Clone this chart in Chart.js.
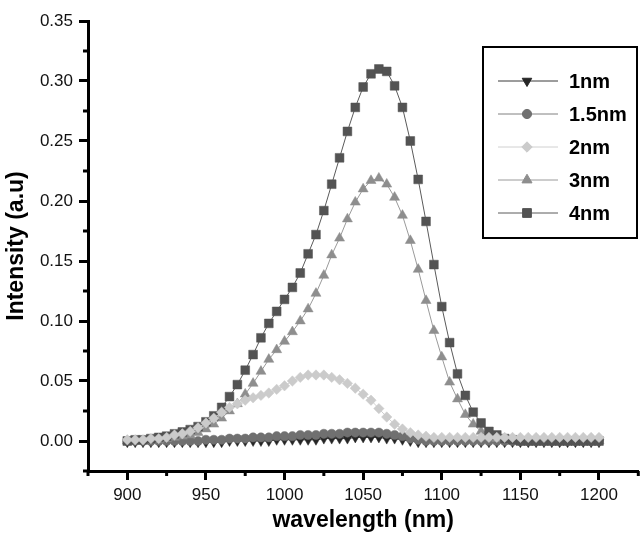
<!DOCTYPE html>
<html>
<head>
<meta charset="utf-8">
<script src="https://cdn.jsdelivr.net/npm/chart.js@4.4.1/dist/chart.umd.min.js"></script>
<style>
  html, body { margin: 0; padding: 0; background: #fff; overflow: hidden; }
  #wrap { position: relative; width: 645px; height: 535px; }
</style>
</head>
<body>
<div id="wrap"><canvas id="chart"></canvas></div>
<script>
// wavelength (nm)
const wavelength = [900, 905, 910, 915, 920, 925, 930, 935, 940, 945,
    950, 955, 960, 965, 970, 975, 980, 985, 990, 995,
    1000, 1005, 1010, 1015, 1020, 1025, 1030, 1035, 1040, 1045,
    1050, 1055, 1060, 1065, 1070, 1075, 1080, 1085, 1090, 1095,
    1100, 1105, 1110, 1115, 1120, 1125, 1130, 1135, 1140, 1145,
    1150, 1155, 1160, 1165, 1170, 1175, 1180, 1185, 1190, 1195, 1200];

const int1nm = [-0.001, -0.001, -0.001, -0.001, -0.001, -0.001, -0.001, -0.001, -0.001, -0.001,
    -0.001, -0.001, -0.001, 0.000, 0.000, 0.000, 0.000, 0.000, 0.000, 0.001,
    0.001, 0.001, 0.001, 0.001, 0.001, 0.002, 0.002, 0.002, 0.002, 0.003,
    0.003, 0.003, 0.003, 0.002, 0.002, 0.001, 0.000, -0.001, -0.001, -0.001,
    -0.001, -0.001, -0.001, -0.001, -0.001, -0.001, -0.001, -0.001, -0.001, -0.001,
    -0.001, -0.001, -0.001, -0.001, -0.001, -0.001, -0.001, -0.001, -0.001, -0.001, -0.001];

const int15nm = [0.000, 0.000, 0.000, 0.000, 0.000, 0.000, 0.000, 0.000, 0.000, 0.000,
    0.001, 0.001, 0.001, 0.002, 0.002, 0.002, 0.003, 0.003, 0.003, 0.004,
    0.004, 0.004, 0.005, 0.005, 0.005, 0.006, 0.006, 0.006, 0.007, 0.007,
    0.007, 0.007, 0.007, 0.006, 0.005, 0.004, 0.002, 0.001, 0.000, 0.000,
    0.000, 0.000, 0.000, 0.000, 0.000, 0.000, 0.000, 0.000, 0.000, 0.000,
    0.000, 0.000, 0.000, 0.000, 0.000, 0.000, 0.000, 0.000, 0.000, 0.000, 0.000];

const int2nm = [0.001, 0.001, 0.001, 0.002, 0.002, 0.003, 0.005, 0.006, 0.008, 0.011,
    0.015, 0.019, 0.024, 0.028, 0.031, 0.034, 0.036, 0.038, 0.040, 0.043,
    0.046, 0.050, 0.053, 0.055, 0.055, 0.055, 0.053, 0.051, 0.048, 0.044,
    0.039, 0.034, 0.027, 0.020, 0.014, 0.010, 0.007, 0.005, 0.004, 0.003,
    0.003, 0.003, 0.003, 0.003, 0.003, 0.003, 0.003, 0.003, 0.003, 0.003,
    0.003, 0.003, 0.003, 0.003, 0.003, 0.003, 0.003, 0.003, 0.003, 0.003, 0.003];

const int3nm = [0.000, 0.000, 0.000, 0.001, 0.001, 0.002, 0.003, 0.004, 0.005, 0.007,
    0.010, 0.014, 0.019, 0.025, 0.031, 0.039, 0.048, 0.058, 0.068, 0.076,
    0.083, 0.091, 0.100, 0.110, 0.123, 0.138, 0.155, 0.169, 0.185, 0.199,
    0.210, 0.217, 0.219, 0.214, 0.203, 0.188, 0.167, 0.143, 0.117, 0.092,
    0.070, 0.049, 0.035, 0.022, 0.014, 0.008, 0.004, 0.002, 0.001, 0.000,
    0.000, 0.000, 0.000, 0.000, 0.000, 0.000, 0.000, 0.000, 0.000, 0.000, 0.000];

const int4nm = [0.000, 0.001, 0.001, 0.002, 0.003, 0.004, 0.006, 0.0075, 0.0095, 0.012,
    0.016, 0.021, 0.028, 0.037, 0.047, 0.059, 0.072, 0.086, 0.098, 0.108,
    0.118, 0.128, 0.140, 0.156, 0.172, 0.192, 0.214, 0.236, 0.258, 0.278,
    0.295, 0.306, 0.310, 0.308, 0.296, 0.278, 0.250, 0.218, 0.183, 0.147,
    0.112, 0.082, 0.056, 0.038, 0.024, 0.015, 0.008, 0.005, 0.002, 0.001,
    0.000, 0.000, 0.000, 0.000, 0.000, 0.000, 0.000, 0.000, 0.000, 0.000, 0.000];

const seriesNames = ['1nm', '1.5nm', '2nm', '3nm', '4nm'];

const xTicks = [900, 950, 1000, 1050, 1100, 1150, 1200];
const xMinorTicks = [875, 925, 975, 1025, 1075, 1125, 1175, 1225];
const yTicks = [0, 0.05, 0.10, 0.15, 0.20, 0.25, 0.30, 0.35];
const yMinorTicks = [-0.025, 0.025, 0.075, 0.125, 0.175, 0.225, 0.275, 0.325];

const FONT = "'Liberation Sans', Arial, Helvetica, sans-serif";

function pts(values) {
    return wavelength.map((w, i) => ({ x: w, y: values[i] }));
}

// marker style per series
const styles = [
    { data: int1nm, style: 'triangle', rot: 180, radius: 5.5, fill: '#262626', line: '#3a3a3a', order: 4 },
    { data: int15nm, style: 'circle', rot: 0, radius: 4.6, fill: '#707070', line: '#808080', order: 3 },
    { data: int2nm, style: 'rectRot', rot: 0, radius: 5.2, fill: '#cbcbcb', line: '#d0d0d0', order: 0 },
    { data: int3nm, style: 'triangle', rot: 0, radius: 5.8, fill: '#8e8e8e', line: '#9a9a9a', order: 2 },
    { data: int4nm, style: 'rect', rot: 0, radius: 6.2, fill: '#535353', line: '#5a5a5a', order: 1 }
];

const datasets = styles.map((s, i) => ({
    label: seriesNames[i],
    data: pts(s.data),
    borderColor: s.line,
    borderWidth: 1,
    pointStyle: s.style,
    pointRotation: s.rot,
    pointRadius: s.radius,
    pointBackgroundColor: s.fill,
    pointBorderColor: s.fill,
    pointBorderWidth: 0.5,
    tension: 0,
    order: s.order
}));

// short minor ticks on both axes
const minorTicks = {
    id: 'minorTicks',
    afterDraw(chart) {
        const ctx = chart.ctx;
        const xs = chart.scales.x, ys = chart.scales.y;
        ctx.save();
        ctx.strokeStyle = '#000';
        ctx.lineWidth = 3;
        xMinorTicks.forEach(v => {
            const px = xs.getPixelForValue(v);
            ctx.beginPath();
            ctx.moveTo(px, xs.top);
            ctx.lineTo(px, xs.top + 5);
            ctx.stroke();
        });
        yMinorTicks.forEach(v => {
            const py = ys.getPixelForValue(v);
            ctx.beginPath();
            ctx.moveTo(ys.right, py);
            ctx.lineTo(ys.right - 5, py);
            ctx.stroke();
        });
        ctx.restore();
    }
};

// framed legend in the upper right
const boxLegend = {
    id: 'boxLegend',
    afterDraw(chart) {
        const ctx = chart.ctx;
        const left = 483, top = 47, w = 154, h = 191;
        ctx.save();
        ctx.fillStyle = '#fff';
        ctx.fillRect(left, top, w, h);
        ctx.strokeStyle = '#000';
        ctx.lineWidth = 2;
        ctx.strokeRect(left, top, w, h);
        ctx.font = 'bold 20px ' + FONT;
        ctx.textBaseline = 'middle';
        ctx.textAlign = 'left';
        styles.forEach((s, i) => {
            const y = 81 + i * 33;
            ctx.strokeStyle = s.line;
            ctx.lineWidth = 1;
            ctx.beginPath();
            ctx.moveTo(498, y);
            ctx.lineTo(558, y);
            ctx.stroke();
            ctx.fillStyle = s.fill;
            ctx.strokeStyle = s.fill;
            Chart.helpers.drawPoint(ctx, {
                pointStyle: s.style, radius: s.radius, rotation: s.rot, borderWidth: 0.5
            }, 527, y);
            ctx.fillStyle = '#000';
            ctx.fillText(seriesNames[i], 569, y + 1);
        });
        ctx.restore();
    }
};

new Chart(document.getElementById('chart'), {
    type: 'line',
    data: { datasets: datasets },
    options: {
        responsive: true,
        maintainAspectRatio: false,
        animation: false,
        layout: { padding: { top: 21, right: 2, left: 0, bottom: 0 } },
        plugins: {
            legend: { display: false },
            tooltip: { enabled: false }
        },
        scales: {
            x: {
                type: 'linear',
                min: 875,
                max: 1225,
                afterFit(scale) { scale.height = 64; },
                afterBuildTicks(scale) { scale.ticks = xTicks.map(v => ({ value: v })); },
                grid: { display: true, drawOnChartArea: false, drawTicks: true, tickLength: 9, tickWidth: 3, tickColor: '#000' },
                border: { display: true, width: 3, color: '#000' },
                ticks: {
                    autoSkip: false, maxRotation: 0, padding: 5, color: '#111',
                    font: { family: FONT, size: 17 },
                    callback: v => String(v)
                },
                title: {
                    display: true, text: 'wavelength (nm)', color: '#000',
                    font: { family: FONT, size: 23, weight: 'bold' },
                    padding: { top: 0, bottom: 1 }
                }
            },
            y: {
                type: 'linear',
                min: -0.025,
                max: 0.35,
                afterFit(scale) { scale.width = 88; },
                afterBuildTicks(scale) { scale.ticks = yTicks.map(v => ({ value: v })); },
                grid: { display: true, drawOnChartArea: false, drawTicks: true, tickLength: 9, tickWidth: 3, tickColor: '#000' },
                border: { display: true, width: 3, color: '#000' },
                ticks: {
                    autoSkip: false, padding: 6, color: '#111',
                    font: { family: FONT, size: 17 },
                    callback: v => Number(v).toFixed(2)
                },
                title: {
                    display: true, text: 'Intensity (a.u)', color: '#000',
                    font: { family: FONT, size: 23, weight: 'bold' },
                    padding: { top: 3, bottom: 0 }
                }
            }
        }
    },
    plugins: [minorTicks, boxLegend]
});
</script>
</body>
</html>
